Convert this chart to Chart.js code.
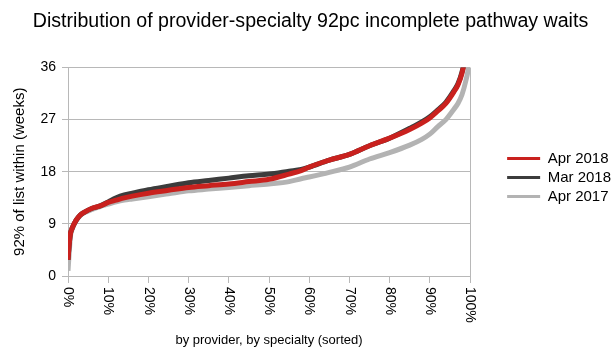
<!DOCTYPE html>
<html>
<head>
<meta charset="utf-8">
<script src="https://cdn.jsdelivr.net/npm/chart.js@4/dist/chart.umd.min.js"></script>
<style>
  html, body { margin: 0; padding: 0; background: #ffffff; }
  #wrap { width: 615px; height: 355px; }
</style>
</head>
<body>
<div id="wrap"><canvas id="c" width="615" height="355"></canvas></div>
<script>
// Percentile position of provider-specialty (sorted), in %
const positions = [0, 0.3, 0.6, 1, 2, 3, 4, 6, 8, 10, 12, 14, 16, 20, 25, 30, 35, 40, 45, 50, 55, 58, 60, 65, 70, 75, 80, 85, 88, 90, 92, 94, 96, 97, 98, 99, 99.5, 100];
// 92nd percentile wait (weeks)
const apr2018 = [2.8, 5.5, 7.3, 8.2, 9.6, 10.5, 11.0, 11.7, 12.1, 12.7, 13.1, 13.5, 13.8, 14.3, 14.8, 15.3, 15.6, 15.9, 16.3, 16.7, 17.6, 18.2, 18.8, 20.0, 21.0, 22.5, 23.8, 25.3, 26.4, 27.3, 28.5, 29.8, 31.8, 33.0, 35.0, 38.5, 41.0, 45.0];
const mar2018 = [2.8, 5.5, 7.3, 8.2, 9.6, 10.5, 11.0, 11.7, 12.1, 12.8, 13.5, 14.0, 14.3, 14.9, 15.5, 16.1, 16.5, 16.9, 17.3, 17.6, 18.1, 18.4, 18.8, 20.0, 21.0, 22.5, 23.8, 25.5, 26.6, 27.5, 28.7, 30.0, 32.0, 33.2, 35.2, 38.5, 41.0, 45.0];
const apr2017 = [0.9, 4.0, 6.8, 8.0, 9.5, 10.4, 10.9, 11.5, 12.0, 12.4, 12.8, 13.1, 13.3, 13.7, 14.2, 14.7, 15.0, 15.3, 15.6, 15.9, 16.3, 16.8, 17.1, 17.9, 18.8, 20.2, 21.3, 22.6, 23.6, 24.5, 25.8, 27.0, 28.8, 29.8, 31.3, 33.8, 35.5, 39.0];
const seriesNames = ['Apr 2018', 'Mar 2018', 'Apr 2017'];
const seriesColors = ['#c9211e', '#3c3c3c', '#b3b3b3'];
const yTicks = [0, 9, 18, 27, 36];
const xTickStep = 10;

const FONT = "'Liberation Sans', Arial, Helvetica, sans-serif";
const GRID = '#b8b8b8';
const RIGHT_PAD = -6;

function pts(vals) { return positions.map((p, i) => ({ x: p, y: vals[i] })); }

const rotatedXLabels = {
  id: 'rotatedXLabels',
  afterDraw(chart) {
    const sx = chart.scales.x;
    const ctx = chart.ctx;
    ctx.save();
    ctx.fillStyle = '#000000';
    ctx.font = '14px ' + FONT;
    ctx.textAlign = 'left';
    ctx.textBaseline = 'middle';
    sx.ticks.forEach(t => {
      const px = sx.getPixelForValue(t.value);
      ctx.save();
      ctx.translate(px, sx.top + 11);
      ctx.rotate(Math.PI / 2);
      ctx.fillText(t.value + '%', 0, 0);
      ctx.restore();
    });
    ctx.restore();
  }
};

const datasets = [apr2018, mar2018, apr2017].map((vals, i) => ({
  label: seriesNames[i],
  data: pts(vals),
  borderColor: seriesColors[i],
  backgroundColor: seriesColors[i],
  borderWidth: 5,
  pointRadius: 0,
  cubicInterpolationMode: 'monotone',
  fill: false,
  clip: 0
}));

new Chart(document.getElementById('c'), {
  type: 'line',
  data: { datasets },
  plugins: [rotatedXLabels],
  options: {
    responsive: false,
    animation: false,
    devicePixelRatio: 1,
    layout: { padding: { left: 0, top: 0, bottom: 0, right: RIGHT_PAD } },
    plugins: {
      title: {
        display: true,
        text: 'Distribution of provider-specialty 92pc incomplete pathway waits',
        color: '#000000',
        font: { family: FONT, size: 19.6, weight: 'normal' },
        padding: { top: 10, bottom: 34 }
      },
      legend: {
        position: 'right',
        maxWidth: 200,
        labels: {
          color: '#000000',
          font: { family: FONT, size: 15 },
          boxWidth: 33,
          boxHeight: 3,
          padding: 4,
          generateLabels(chart) {
            return chart.data.datasets.map((d, i) => ({
              text: d.label,
              fillStyle: d.borderColor,
              strokeStyle: d.borderColor,
              lineWidth: 0,
              hidden: false,
              datasetIndex: i
            }));
          }
        }
      },
      tooltip: { enabled: false }
    },
    scales: {
      x: {
        type: 'linear',
        min: 0,
        max: 100,
        ticks: { display: false, stepSize: xTickStep },
        grid: {
          color: ctx => (ctx.tick && ctx.tick.value === 100) ? GRID : 'rgba(0,0,0,0)',
          tickColor: GRID,
          tickLength: 7,
          drawOnChartArea: true
        },
        border: { color: GRID },
        title: {
          display: true,
          text: 'by provider, by specialty (sorted)',
          color: '#000000',
          font: { family: FONT, size: 13 },
          padding: { top: 0, bottom: 7 }
        },
        afterFit(s) { s.height = 79; }
      },
      y: {
        type: 'linear',
        min: 0,
        max: 36,
        afterBuildTicks(s) { s.ticks = yTicks.map(v => ({ value: v })); },
        ticks: {
          color: '#000000',
          font: { family: FONT, size: 14 },
          padding: 6
        },
        grid: { color: GRID, tickColor: GRID, tickLength: 6 },
        border: { color: GRID },
        title: {
          display: true,
          text: '92% of list within (weeks)',
          color: '#000000',
          font: { family: FONT, size: 15 },
          padding: { top: 11, bottom: 0 }
        },
        afterFit(s) { s.width = 68; }
      },
      yR: {
        type: 'linear',
        position: 'right',
        display: true,
        grid: { display: false, drawTicks: false },
        border: { display: false },
        ticks: { display: false },
        afterFit(s) {
          const lw = s.chart.legend ? s.chart.legend.width : 111;
          s.width = Math.max(0, 615 - RIGHT_PAD - lw - 470);
        }
      }
    }
  }
});
</script>
</body>
</html>
